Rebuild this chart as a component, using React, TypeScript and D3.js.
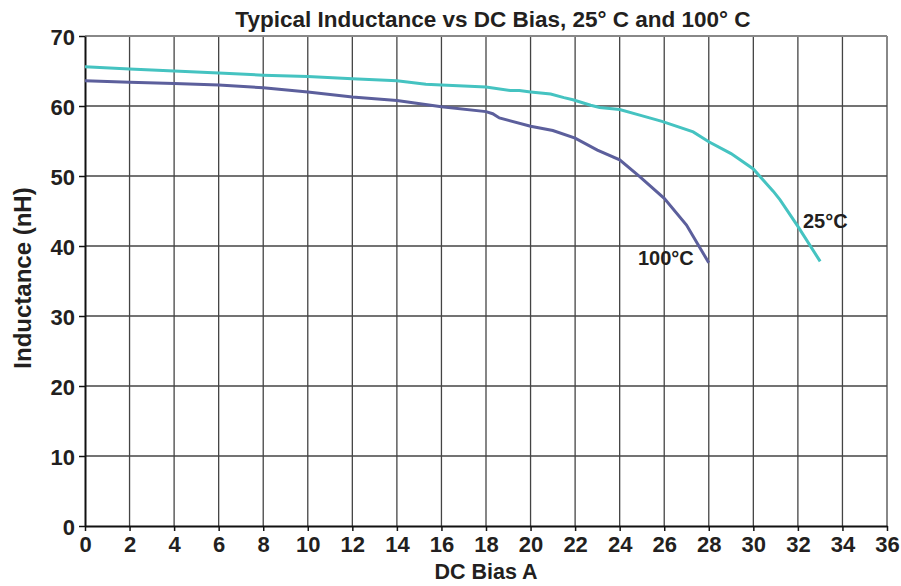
import React, { useEffect, useRef } from "react";
import * as d3 from "d3";

// DC bias (A) vs inductance (nH)
const bias25 = [0, 2, 4, 6, 8, 10, 12, 14, 15.3, 16, 18, 19.1, 19.5, 20, 20.9, 21.5, 21.9, 22.7, 23.1, 24, 24.9, 25.9, 27.3, 28, 29, 30, 30.9, 31.2, 32, 33];
const induct25 = [65.6, 65.3, 65.0, 64.7, 64.4, 64.2, 63.9, 63.6, 63.1, 63.0, 62.7, 62.2, 62.2, 62.0, 61.7, 61.2, 60.9, 60.1, 59.8, 59.5, 58.7, 57.8, 56.3, 54.9, 53.2, 51.0, 47.8, 46.6, 42.8, 37.8];

const bias100 = [0, 2, 4, 6, 8, 10, 12, 14, 16, 18, 18.3, 18.6, 20, 21, 22, 23, 24, 24.9, 26, 27, 28];
const induct100 = [63.6, 63.4, 63.2, 63.0, 62.6, 62.0, 61.3, 60.8, 59.9, 59.2, 58.9, 58.3, 57.1, 56.5, 55.4, 53.7, 52.3, 49.9, 46.8, 43.0, 37.6];

const xTicks = d3.range(0, 37, 2);
const yTicks = d3.range(0, 71, 10);

const App = () => {
  const ref = useRef<SVGSVGElement>(null);

  useEffect(() => {
    const svg = d3.select(ref.current);
    svg.selectAll("*").remove();

    const x = d3.scaleLinear().domain([0, 36]).range([85, 887]);
    const y = d3.scaleLinear().domain([0, 70]).range([526, 36]);
    const font = "'Liberation Sans', Arial, sans-serif";

    // grid
    svg
      .selectAll(".vgrid")
      .data(xTicks.slice(1))
      .enter()
      .append("line")
      .attr("x1", (d) => x(d))
      .attr("x2", (d) => x(d))
      .attr("y1", y(0))
      .attr("y2", y(70))
      .attr("stroke", (d) => (d === 36 ? "#888" : "#444"))
      .attr("stroke-width", (d) => (d === 36 ? 2 : 1.3));

    svg
      .selectAll(".hgrid")
      .data(yTicks.slice(1))
      .enter()
      .append("line")
      .attr("x1", x(0))
      .attr("x2", x(36))
      .attr("y1", (d) => y(d))
      .attr("y2", (d) => y(d))
      .attr("stroke", (d) => (d === 70 ? "#888" : "#444"))
      .attr("stroke-width", (d) => (d === 70 ? 2 : 1.3));

    // axes
    const xAxis = svg
      .append("g")
      .attr("transform", `translate(0,${y(0)})`)
      .call(d3.axisBottom(x).tickValues(xTicks).tickSize(5).tickSizeOuter(0));
    xAxis.select(".domain").attr("stroke", "#111").attr("stroke-width", 2);
    xAxis.selectAll(".tick line").attr("stroke", "#111").attr("stroke-width", 1.5);
    xAxis
      .selectAll(".tick text")
      .attr("dy", 0)
      .attr("y", 26)
      .style("font-family", font)
      .style("font-size", "22px")
      .style("font-weight", "bold")
      .attr("fill", "#231f20");

    const yAxis = svg
      .append("g")
      .attr("transform", `translate(${x(0)},0)`)
      .call(d3.axisLeft(y).tickValues(yTicks).tickSize(6).tickSizeOuter(0));
    yAxis.select(".domain").attr("stroke", "#111").attr("stroke-width", 2);
    yAxis.selectAll(".tick line").attr("stroke", "#111").attr("stroke-width", 1.5);
    yAxis
      .selectAll(".tick text")
      .attr("x", -10)
      .attr("dy", "0.4em")
      .style("font-family", font)
      .style("font-size", "22px")
      .style("font-weight", "bold")
      .attr("fill", "#231f20");

    // curves
    const line = d3
      .line<[number, number]>()
      .x((d) => x(d[0]))
      .y((d) => y(d[1]));

    const series = [
      { xs: bias25, ys: induct25, color: "#45c3c1" },
      { xs: bias100, ys: induct100, color: "#5c5f9c" },
    ];
    series.forEach((s) => {
      svg
        .append("path")
        .datum(s.xs.map((v, i) => [v, s.ys[i]] as [number, number]))
        .attr("d", line)
        .attr("fill", "none")
        .attr("stroke", s.color)
        .attr("stroke-width", 3);
    });

    // labels
    const label = (t: string, px: number, py: number, size: number, anchor = "start") =>
      svg
        .append("text")
        .attr("x", px)
        .attr("y", py)
        .attr("text-anchor", anchor)
        .style("font-family", font)
        .style("font-size", `${size}px`)
        .style("font-weight", "bold")
        .attr("fill", "#231f20")
        .text(t);

    label("100°C", 638, 265, 20);
    label("25°C", 803, 228, 20);
    label("Typical Inductance vs DC Bias, 25° C and 100° C", 493, 27, 22.5, "middle");
    label("DC Bias A", 486, 579, 21.5, "middle");

    svg
      .append("text")
      .attr("transform", `translate(31,278) rotate(-90)`)
      .attr("text-anchor", "middle")
      .style("font-family", font)
      .style("font-size", "24px")
      .style("font-weight", "bold")
      .attr("fill", "#231f20")
      .text("Inductance (nH)");
  }, []);

  return <svg ref={ref} width={901} height={586} style={{ position: "absolute", left: 0, top: 0, background: "#fff" }} />;
};

export default App;
